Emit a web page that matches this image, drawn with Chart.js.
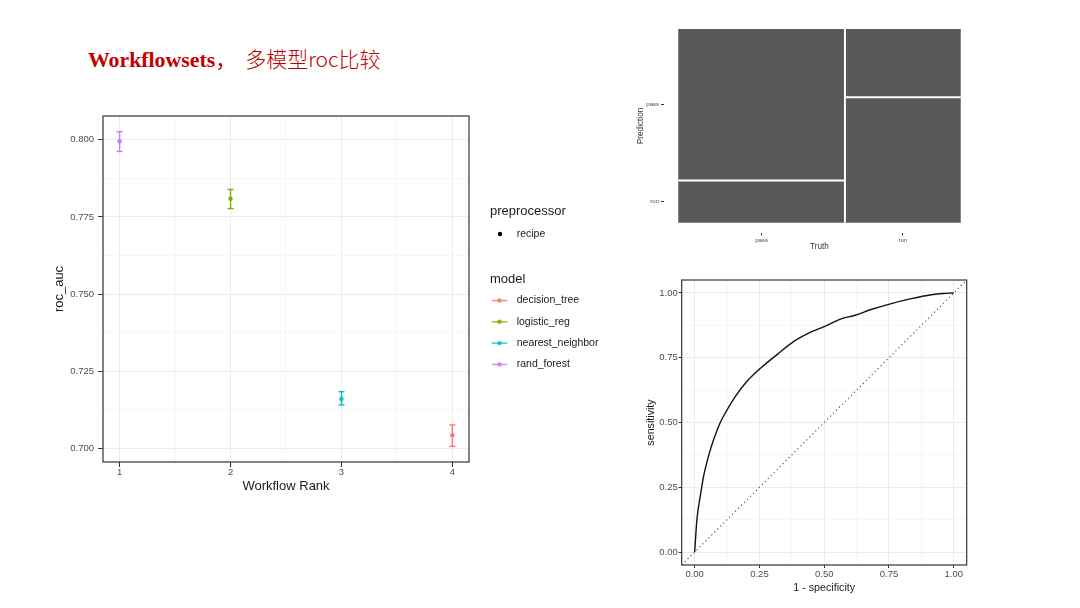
<!DOCTYPE html>
<html>
<head>
<meta charset="utf-8">
<script src="https://cdn.jsdelivr.net/npm/chart.js@4.4.1/dist/chart.umd.min.js"></script>
<style>
html,body{margin:0;padding:0;background:#fff;width:1080px;height:608px;overflow:hidden;}
#title{position:absolute;left:88px;top:48px;color:#C00000;white-space:nowrap;line-height:21px;}
#title .en{font-family:"Liberation Serif","Times New Roman",serif;font-weight:bold;font-size:21.8px;}
#title .cm{font-family:"Noto Sans CJK SC",sans-serif;font-size:21px;}
#title .cn{font-family:"Noto Sans CJK SC",sans-serif;font-weight:300;font-size:21px;margin-left:9px;}
canvas{position:absolute;}
</style>
</head>
<body>
<div id="title"><span class="en">Workflowsets</span><span class="cm">，</span><span class="cn">多模型roc比较</span></div>
<canvas id="c1" width="572" height="398" style="left:48px;top:100px"></canvas>
<canvas id="c2" width="348" height="247" style="left:632px;top:10px"></canvas>
<canvas id="c3" width="339" height="328" style="left:641px;top:270px"></canvas>
<script>
// ---------------- data ----------------
// workflow ranking (left chart)
const ranks = [1, 2, 3, 4];
const rankedModels = ['rand_forest', 'logistic_reg', 'nearest_neighbor', 'decision_tree'];
const rocAucMean  = [0.7995, 0.7809, 0.7160, 0.7043];
const rocAucLower = [0.7962, 0.7777, 0.7141, 0.7007];
const rocAucUpper = [0.8026, 0.7839, 0.7184, 0.7076];
const legendModels = ['decision_tree', 'logistic_reg', 'nearest_neighbor', 'rand_forest'];
const preprocessors = ['recipe'];
const rocAucTicks = [0.700, 0.725, 0.750, 0.775, 0.800];
const rankTicks = [1, 2, 3, 4];

// confusion-matrix mosaic (top right)
const truthLevels = ['pass', 'run'];
const predictionLevels = ['pass', 'run'];
const truthShare = [0.59, 0.41];            // column widths
const predRunShareByTruth = [0.218, 0.648]; // share predicted 'run' inside each truth column

// ROC curve (bottom right)
const rocFpr = [0, 0.009, 0.022, 0.035, 0.054, 0.074, 0.099, 0.119, 0.158, 0.203, 0.255, 0.319, 0.384, 0.45, 0.50, 0.565, 0.616, 0.681, 0.759, 0.836, 0.914, 0.96, 1.0];
const rocTpr = [0, 0.128, 0.218, 0.295, 0.372, 0.436, 0.500, 0.538, 0.602, 0.660, 0.710, 0.763, 0.814, 0.850, 0.870, 0.900, 0.913, 0.936, 0.959, 0.978, 0.993, 0.998, 1.0];
const unitTicks = [0, 0.25, 0.5, 0.75, 1];

// ---------------- styles ----------------
const modelColors = {decision_tree:'#F8766D', logistic_reg:'#7CAE00', nearest_neighbor:'#00BFC4', rand_forest:'#C77CFF'};
const FONT = '"Liberation Sans", Arial, sans-serif';
Chart.defaults.font.family = FONT;
Chart.defaults.animation = false;
Chart.defaults.events = [];
Chart.defaults.plugins.legend.display = false;
Chart.defaults.plugins.tooltip.enabled = false;

function expand(lo, hi, f) { const s = (hi - lo) * f; return [lo - s, hi + s]; }
function withMinor(major) {
  const out = [];
  major.forEach((v, i) => {
    out.push({value: v});
    if (i < major.length - 1) out.push({value: (v + major[i + 1]) / 2, minor: true});
  });
  return out;
}
const gridColor = c => (c.tick && c.tick.minor) ? '#F2F2F2' : '#EBEBEB';
const gridWidth = c => (c.tick && c.tick.minor) ? 0.6 : 1;
const tickColor = c => (c.tick && c.tick.minor) ? 'rgba(0,0,0,0)' : '#333333';

const framePlugin = {
  id: 'frame',
  afterDatasetsDraw(chart, args, o) {
    if (!o || !o.color) return;
    const {ctx, chartArea: a} = chart;
    ctx.save();
    ctx.strokeStyle = o.color; ctx.lineWidth = o.width;
    ctx.strokeRect(a.left, a.top, a.right - a.left, a.bottom - a.top);
    ctx.restore();
  }
};

const ggLegendPlugin = {
  id: 'ggLegend',
  afterDraw(chart) {
    const {ctx, chartArea: a} = chart;
    const x0 = a.right + 21;
    ctx.save();
    ctx.textAlign = 'left'; ctx.textBaseline = 'middle';
    ctx.fillStyle = '#1A1A1A';
    ctx.font = '13px ' + FONT;
    ctx.fillText('preprocessor', x0, a.top + 95.7);
    ctx.font = '10.5px ' + FONT;
    preprocessors.forEach((p, i) => {
      const y = a.top + 118 + i * 21.3;
      ctx.fillStyle = '#000';
      ctx.beginPath(); ctx.arc(x0 + 10, y, 2.2, 0, Math.PI * 2); ctx.fill();
      ctx.fillStyle = '#1A1A1A';
      ctx.fillText(p, x0 + 26.7, y);
    });
    ctx.font = '13px ' + FONT;
    ctx.fillText('model', x0, a.top + 163);
    ctx.font = '10.5px ' + FONT;
    legendModels.forEach((m, i) => {
      const y = a.top + 184.5 + i * 21.3;
      const col = modelColors[m];
      ctx.strokeStyle = col; ctx.lineWidth = 1.4; ctx.globalAlpha = 0.85;
      ctx.beginPath(); ctx.moveTo(x0 + 1.7, y); ctx.lineTo(x0 + 17.3, y); ctx.stroke();
      ctx.fillStyle = col;
      ctx.beginPath(); ctx.arc(x0 + 9.5, y, 2.2, 0, Math.PI * 2); ctx.fill();
      ctx.globalAlpha = 1;
      ctx.fillStyle = '#1A1A1A';
      ctx.fillText(m, x0 + 26.7, y);
    });
    ctx.restore();
  }
};

// ---------------- chart 1: workflow ranking ----------------
const ds1 = [];
ranks.forEach((r, i) => {
  const col = modelColors[rankedModels[i]];
  ds1.push({
    data: [{x: r, y: rocAucMean[i]}], showLine: false, order: 0,
    pointRadius: 2.2, pointBackgroundColor: col, pointBorderColor: col, pointBorderWidth: 0
  });
  ds1.push({
    data: [{x: r, y: rocAucLower[i]}, {x: r, y: rocAucUpper[i]}], order: 1,
    borderColor: col, borderWidth: 1.4,
    pointStyle: 'line', pointRadius: 3, pointBorderColor: col, pointBorderWidth: 1.4,
    pointBackgroundColor: col
  });
});
const xr1 = expand(Math.min(...ranks), Math.max(...ranks), 0.05);
const yr1 = expand(Math.min(...rocAucLower), Math.max(...rocAucUpper), 0.05);

new Chart(document.getElementById('c1'), {
  type: 'line',
  data: {datasets: ds1},
  options: {
    responsive: false, devicePixelRatio: 1,
    layout: {padding: {left: 0, top: 16, right: 151, bottom: 0}},
    scales: {
      x: {
        type: 'linear', min: xr1[0], max: xr1[1],
        afterBuildTicks(s) { s.ticks = withMinor(rankTicks); },
        afterFit(s) { s.height = 36; },
        ticks: {autoSkip: false, maxRotation: 0, padding: 0, font: {size: 9.5}, color: '#4D4D4D',
                callback: (v, i, t) => t[i].minor ? '' : String(v)},
        grid: {color: gridColor, lineWidth: gridWidth, tickLength: 5, tickColor: tickColor, tickWidth: 1},
        border: {display: false},
        title: {display: true, text: 'Workflow Rank', font: {size: 13}, color: '#1A1A1A', padding: {top: 0, bottom: 4}}
      },
      y: {
        type: 'linear', min: yr1[0], max: yr1[1],
        afterBuildTicks(s) { s.ticks = withMinor(rocAucTicks); },
        afterFit(s) { s.width = 55; },
        ticks: {autoSkip: false, padding: 4, font: {size: 9.5}, color: '#4D4D4D',
                callback: (v, i, t) => t[i].minor ? '' : v.toFixed(3)},
        grid: {color: gridColor, lineWidth: gridWidth, tickLength: 5, tickColor: tickColor, tickWidth: 1},
        border: {display: false},
        title: {display: true, text: 'roc_auc', font: {size: 13}, color: '#1A1A1A', padding: {top: 4, bottom: 0}}
      }
    },
    plugins: {frame: {color: '#333333', width: 1.2}}
  },
  plugins: [framePlugin, ggLegendPlugin]
});

// ---------------- chart 2: mosaic ----------------
const ds2 = [];
const CELL = '#595959';
let xStart = 0;
const colCenters = [];
truthLevels.forEach((t, i) => {
  const x0 = xStart, x1 = xStart + truthShare[i];
  const runH = predRunShareByTruth[i];
  colCenters.push((x0 + x1) / 2);
  ds2.push({data: [{x: x0, y: runH}, {x: x1, y: runH}], fill: {value: 0}, backgroundColor: CELL, borderWidth: 0, pointRadius: 0, order: 2});
  ds2.push({data: [{x: x0, y: 1}, {x: x1, y: 1}], fill: {value: runH}, backgroundColor: CELL, borderWidth: 0, pointRadius: 0, order: 2});
  xStart = x1;
});
// white separators between cells (drawn on top: lower order)
xStart = 0;
truthLevels.forEach((t, i) => {
  const x0 = xStart, x1 = xStart + truthShare[i];
  const runH = predRunShareByTruth[i];
  ds2.push({data: [{x: x0, y: runH}, {x: x1, y: runH}], borderColor: '#FFFFFF', borderWidth: 2, pointRadius: 0, fill: false, order: 0});
  if (i < truthLevels.length - 1)
    ds2.push({data: [{x: x1, y: 0}, {x: x1, y: 1}], borderColor: '#FFFFFF', borderWidth: 2, pointRadius: 0, fill: false, order: 0});
  xStart = x1;
});
const mosaicYTicks = [
  {value: predRunShareByTruth[0] / 2, name: predictionLevels[1]},
  {value: (predRunShareByTruth[0] + 1) / 2, name: predictionLevels[0]}
];
const unitRange = expand(0, 1, 0.05);

new Chart(document.getElementById('c2'), {
  type: 'line',
  data: {datasets: ds2},
  options: {
    responsive: false, devicePixelRatio: 1,
    layout: {padding: {left: 0, top: 9.4, right: 5, bottom: 0}},
    scales: {
      x: {
        type: 'linear', min: unitRange[0], max: unitRange[1],
        afterBuildTicks(s) { s.ticks = colCenters.map((v, i) => ({value: v, name: truthLevels[i]})); },
        afterFit(s) { s.height = 24.5; },
        ticks: {autoSkip: false, maxRotation: 0, padding: 1, font: {size: 6}, color: '#4D4D4D',
                callback: (v, i, t) => t[i].name},
        grid: {drawOnChartArea: false, tickLength: 3, tickColor: '#333333', tickWidth: 1},
        border: {display: false},
        title: {display: true, text: 'Truth', font: {size: 8.2}, color: '#333333', padding: {top: 0, bottom: 5}}
      },
      y: {
        type: 'linear', min: unitRange[0], max: unitRange[1],
        afterBuildTicks(s) { s.ticks = mosaicYTicks.map(o => ({...o})); },
        afterFit(s) { s.width = 32; },
        ticks: {autoSkip: false, padding: 2, font: {size: 6}, color: '#4D4D4D',
                callback: (v, i, t) => t[i].name},
        grid: {drawOnChartArea: false, tickLength: 3, tickColor: '#333333', tickWidth: 1},
        border: {display: false},
        title: {display: true, text: 'Prediction', font: {size: 8.2}, color: '#333333', padding: {top: 4, bottom: 0}}
      }
    }
  }
});

// ---------------- chart 3: ROC ----------------
const rocPoints = rocFpr.map((x, i) => ({x: x, y: rocTpr[i]}));
new Chart(document.getElementById('c3'), {
  type: 'line',
  data: {datasets: [
    {data: [{x: unitRange[0], y: unitRange[0]}, {x: unitRange[1], y: unitRange[1]}],
     borderColor: '#4D4D4D', borderWidth: 1.1, borderDash: [1.2, 3], pointRadius: 0, fill: false},
    {data: rocPoints, borderColor: '#111111', borderWidth: 1.4, pointRadius: 0, fill: false,
     cubicInterpolationMode: 'monotone'}
  ]},
  options: {
    responsive: false, devicePixelRatio: 1,
    layout: {padding: {left: 0, top: 10, right: 13.3, bottom: 0}},
    scales: {
      x: {
        type: 'linear', min: unitRange[0], max: unitRange[1],
        afterBuildTicks(s) { s.ticks = withMinor(unitTicks); },
        afterFit(s) { s.height = 33; },
        ticks: {autoSkip: false, maxRotation: 0, padding: 1, font: {size: 9.5}, color: '#4D4D4D',
                callback: (v, i, t) => t[i].minor ? '' : v.toFixed(2)},
        grid: {color: gridColor, lineWidth: gridWidth, tickLength: 3, tickColor: tickColor, tickWidth: 1},
        border: {display: false},
        title: {display: true, text: '1 - specificity', font: {size: 10.7}, color: '#1A1A1A', padding: {top: 0, bottom: 4}}
      },
      y: {
        type: 'linear', min: unitRange[0], max: unitRange[1],
        afterBuildTicks(s) { s.ticks = withMinor(unitTicks); },
        afterFit(s) { s.width = 40.7; },
        ticks: {autoSkip: false, padding: 1, font: {size: 9.5}, color: '#4D4D4D',
                callback: (v, i, t) => t[i].minor ? '' : v.toFixed(2)},
        grid: {color: gridColor, lineWidth: gridWidth, tickLength: 3, tickColor: tickColor, tickWidth: 1},
        border: {display: false},
        title: {display: true, text: 'sensitivity', font: {size: 10.7}, color: '#1A1A1A', padding: {top: 4, bottom: 0}}
      }
    },
    plugins: {frame: {color: '#333333', width: 1.2}}
  },
  plugins: [framePlugin]
});
</script>
</body>
</html>
